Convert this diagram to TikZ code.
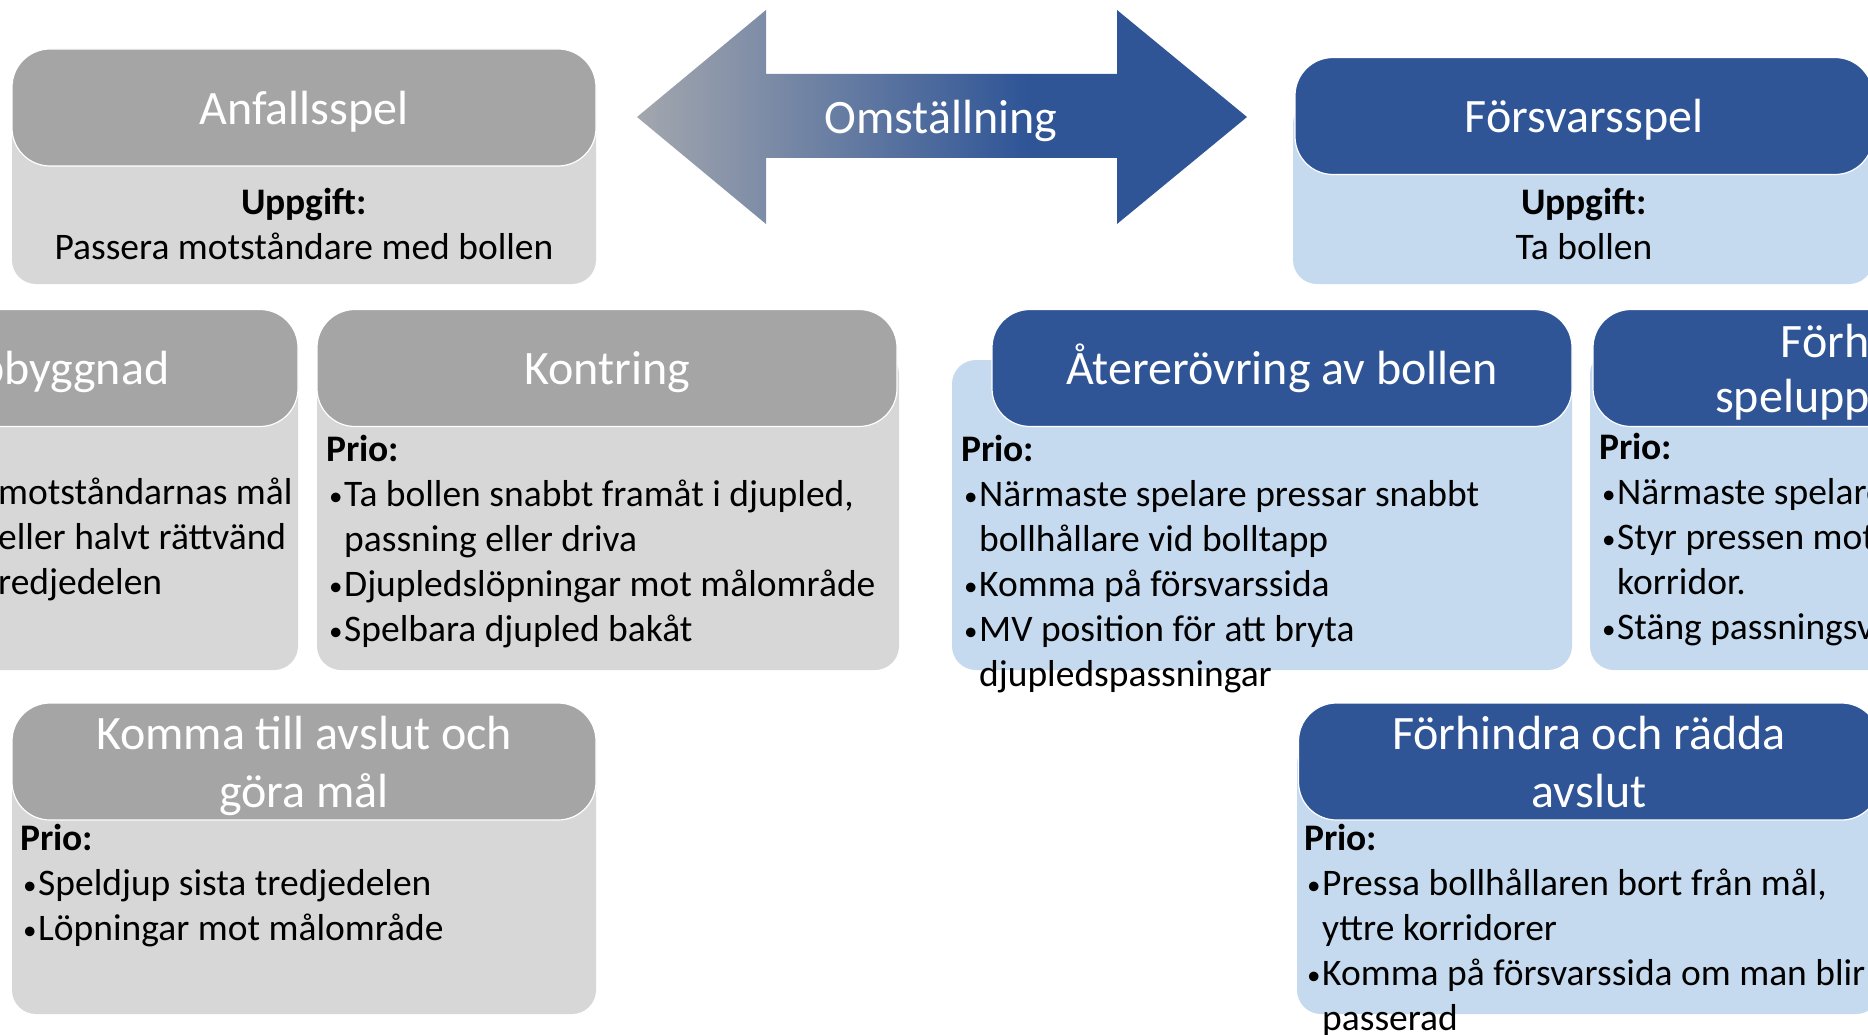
\documentclass[tikz,border=0pt]{standalone}
\usepackage{fontspec}
\setmainfont{Carlito}
\usepackage{tikz}
\definecolor{hgray}{HTML}{A5A5A5}
\definecolor{bgray}{HTML}{D8D7D8}
\definecolor{hblue}{HTML}{2F5597}
\definecolor{bblue}{HTML}{C5DAEE}
\definecolor{agray}{HTML}{A3A7AE}
\pgfdeclarehorizontalshading{omst}{100bp}{color(0bp)=(agray); color(25bp)=(agray); color(57bp)=(hblue); color(100bp)=(hblue)}
\newcommand{\headfont}{\fontsize{48}{58}\selectfont}
\newcommand{\bodyfont}{\fontsize{37.5}{45}\selectfont}
\newcommand{\bul}{\hspace*{3pt}\makebox[15pt][l]{\raisebox{1pt}{\fontsize{27}{27}\selectfont\textbullet}}}
\newcommand{\ind}{\hspace*{18pt}}
\tikzset{
  head/.style={rounded corners=38pt, draw=white, line width=1.2pt, text=white, font=\headfont, align=center, inner sep=0pt, minimum height=117pt, text depth=0pt},
  grayhead/.style={head, fill=hgray},
  bluehead/.style={head, fill=hblue},
  body/.style={rounded corners=24pt, inner sep=0pt},
  graybody/.style={body, fill=bgray},
  bluebody/.style={body, fill=bblue},
  prio/.style={anchor=north west, inner sep=0pt, align=left, font=\bodyfont, text=black},
}

\begin{document}
\begin{tikzpicture}[x=1pt, y=-1pt]
                \useasboundingbox (0,0) rectangle (1868,1035);
                \clip (0,0) rectangle (1868,1035);

                % bodies
                \node[graybody, minimum width=584pt, minimum height=194pt] (anfbody) at (304,187) {};
                \node[bluebody, minimum width=580pt, minimum height=184pt] (forsbody) at (1583,192) {};
                \node[graybody, minimum width=580pt, minimum height=320pt] (spbody) at (8,510) {};
                \node[graybody, minimum width=582pt, minimum height=320pt] (kontbody) at (608,510) {};
                \node[bluebody, minimum width=620pt, minimum height=310pt] (aterbody) at (1262,515) {};
                \node[bluebody, minimum width=567pt, minimum height=320pt] (fsbody) at (1873.5,510) {};
                \node[graybody, minimum width=584pt, minimum height=274pt] (kombody) at (304,877) {};
                \node[bluebody, minimum width=583pt, minimum height=274pt] (frbody) at (1588.5,877) {};

                % headers
                \node[grayhead, minimum width=584pt] (anfhead) at (304,107.5) {Anfallsspel};
                \node[bluehead, minimum width=578pt] (forshead) at (1584,116) {Försvarsspel};
                \node[grayhead, minimum width=580pt] (sphead) at (8,368) {Speluppbyggnad};
                \node[grayhead, minimum width=580pt] (konthead) at (607,368) {Kontring};
                \node[bluehead, minimum width=580pt, text height=32pt] (aterhead) at (1282,368) {Återerövring av bollen};
                \node[bluehead, minimum width=564pt, font=\fontsize{48}{55}\selectfont] (fshead) at (1875,368) {Förhindra\\speluppbyggnad};
                \node[grayhead, minimum width=584pt] (komhead) at (304,761.5) {Komma till avslut och\\göra mål};
                \node[bluehead, minimum width=581pt] (frhead) at (1589,761.5) {Förhindra och rädda\\avslut};

                % omstallning arrow
                \shade[shading=omst] (637,117) -- (766,10) -- (766,74) -- (1117,74) -- (1117,10) -- (1247,117) -- (1117,224) -- (1117,158) -- (766,158) -- (766,224) -- cycle;
                \node[text=white, font=\headfont, text depth=0pt] (omst) at (941,117) {Omställning};

                % uppgift texts
                \node[font=\bodyfont, align=center] (anftext) at (304,224) {\textbf{Uppgift:}\\Passera motståndare med bollen};
                \node[font=\bodyfont, align=center] (forstext) at (1584,224) {\textbf{Uppgift:}\\Ta bollen};

                % prio texts
                \node[prio] (sptext) at (-2,472.5) {\strut motståndarnas mål\\eller halvt rättvänd\\redjedelen};
                \node[prio] (konttext) at (326,429.5) {\strut\textbf{Prio:}\\\bul Ta bollen snabbt framåt i djupled,\\\ind passning eller driva\\\bul Djupledslöpningar mot målområde\\\bul Spelbara djupled bakåt};
                \node[prio] (atertext) at (961,429.5) {\strut\textbf{Prio:}\\\bul Närmaste spelare pressar snabbt\\\ind bollhållare vid bolltapp\\\bul Komma på försvarssida\\\bul MV position för att bryta\\\ind djupledspassningar};
                \node[prio] (fstext) at (1599,427.5) {\strut\textbf{Prio:}\\\bul Närmaste spelare\\\bul Styr pressen mot\\\ind korridor.\\\bul Stäng passningsvägar};
                \node[prio] (komtext) at (20,818.5) {\strut\textbf{Prio:}\\\bul Speldjup sista tredjedelen\\\bul Löpningar mot målområde};
                \node[prio] (frtext) at (1304,818.5) {\strut\textbf{Prio:}\\\bul Pressa bollhållaren bort från mål,\\\ind yttre korridorer\\\bul Komma på försvarssida om man blir\\\ind passerad};
\end{tikzpicture}
\end{document}
